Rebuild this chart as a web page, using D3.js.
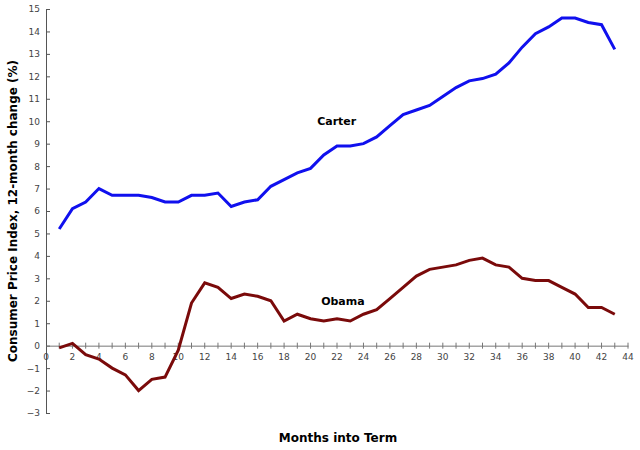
<!DOCTYPE html>
<html><head><meta charset="utf-8">
<script src="https://cdn.jsdelivr.net/npm/d3@7"></script>
<style>body{margin:0;background:#fff}text{font-family:"DejaVu Sans",sans-serif}</style>
</head><body><svg id="chart"></svg>
<script>
const months = d3.range(1, 44);
const carter = [5.2,6.1,6.4,7.0,6.7,6.7,6.7,6.6,6.4,6.4,6.7,6.7,6.8,6.2,6.4,6.5,7.1,7.4,7.7,7.9,8.5,8.9,8.9,9.0,9.3,9.8,10.3,10.5,10.7,11.1,11.5,11.8,11.9,12.1,12.6,13.3,13.9,14.2,14.6,14.6,14.4,14.3,13.2];
const obama = [-0.1,0.1,-0.4,-0.6,-1.0,-1.3,-2.0,-1.5,-1.4,-0.2,1.9,2.8,2.6,2.1,2.3,2.2,2.0,1.1,1.4,1.2,1.1,1.2,1.1,1.4,1.6,2.1,2.6,3.1,3.4,3.5,3.6,3.8,3.9,3.6,3.5,3.0,2.9,2.9,2.6,2.3,1.7,1.7,1.4];
const yTicks = d3.range(-3, 16);
const xTicks = d3.range(0, 45, 2);

const svg = d3.select('#chart').attr('width', 640).attr('height', 450);
const x = d3.scaleLinear().domain([0, 44]).range([46, 628]);
const y = d3.scaleLinear().domain([-3, 15]).range([413, 9]);

// y axis
svg.append('g').attr('transform', 'translate(46,0)')
  .call(d3.axisLeft(y).tickValues(yTicks).tickSize(-4).tickPadding(6).tickFormat(d3.format('d')))
  .call(g => g.select('.domain').attr('stroke', '#555'))
  .call(g => g.selectAll('line').attr('stroke', '#555'))
  .call(g => g.selectAll('text').attr('font-size', 9).attr('fill', '#444'));

// x axis at zero
svg.append('g').attr('transform', `translate(0,${y(0)})`)
  .call(d3.axisBottom(x).tickValues(d3.range(0, 45)).tickSize(0).tickFormat(''))
  .call(g => g.select('.domain').attr('stroke', '#777'));
svg.append('g').attr('transform', `translate(0,${y(0)})`)
  .selectAll('line').data(d3.range(1, 45)).join('line')
  .attr('x1', d => x(d)).attr('x2', d => x(d)).attr('y1', -3).attr('y2', 3).attr('stroke', '#777');
svg.append('g').selectAll('text').data(xTicks).join('text')
  .attr('x', d => x(d)).attr('y', y(0) + 14).attr('text-anchor', 'middle')
  .attr('font-size', 9).attr('fill', '#444').text(d => d);

const line = d3.line().x((d, i) => x(months[i])).y(d => y(d));
svg.append('path').datum(carter).attr('d', line).attr('fill', 'none').attr('stroke', '#1010ee').attr('stroke-width', 3);
svg.append('path').datum(obama).attr('d', line).attr('fill', 'none').attr('stroke', '#7a0a0a').attr('stroke-width', 3);

svg.append('text').attr('x', x(20.5)).attr('y', y(10) + 4).attr('font-size', 11).attr('font-weight', 'bold').text('Carter');
svg.append('text').attr('x', x(20.8)).attr('y', y(2) + 4).attr('font-size', 11).attr('font-weight', 'bold').text('Obama');

svg.append('text').attr('x', 338).attr('y', 442).attr('text-anchor', 'middle')
  .attr('font-size', 12).attr('font-weight', 'bold').text('Months into Term');
svg.append('text').attr('transform', `translate(17,${y(6)}) rotate(-90)`).attr('text-anchor', 'middle')
  .attr('font-size', 12).attr('font-weight', 'bold').text('Consumer Price Index, 12-month change (%)');
</script></body></html>
